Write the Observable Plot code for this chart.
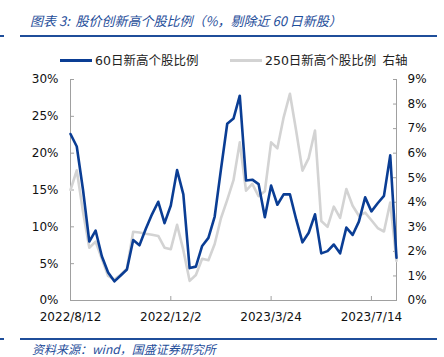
<!DOCTYPE html>
<html>
<head>
<meta charset="utf-8">
<script src="https://cdn.jsdelivr.net/npm/d3@7"></script>
<script src="https://cdn.jsdelivr.net/npm/@observablehq/plot@0.6"></script>
<style>
  html, body { margin: 0; padding: 0; background: #fff; }
  body { width: 444px; height: 357px; position: relative; overflow: hidden; font-family: "DejaVu Sans", sans-serif; }
  .title { position: absolute; left: 30px; top: 11px; font-family: "Noto Sans CJK SC", sans-serif; font-style: italic; font-size: 13px; color: #1f4e9a; white-space: pre; }
  .rule { position: absolute; height: 2px; background: #1f4e9a; }
  .legend { position: absolute; top: 52px; font-size: 12.5px; line-height: 16px; color: #222; white-space: nowrap; font-family: "DejaVu Sans", "Noto Sans CJK SC", sans-serif; }
  .legend .sw { display: inline-block; width: 32px; height: 3px; vertical-align: middle; margin-right: 3px; position: relative; top: -1px; }
  .cjk { font-family: "Noto Sans CJK SC", sans-serif; }
  .source { position: absolute; left: 32px; top: 342px; line-height: 14px; font-family: "Noto Sans CJK SC", sans-serif; font-style: italic; font-size: 12px; color: #1f4e9a; white-space: nowrap; }
  #chart { position: absolute; left: 0; top: 70px; }
</style>
</head>
<body>
<div class="title">图表 3:  股价创新高个股比例（%，剔除近 60 日新股）</div>
<div class="rule" style="left:0;width:4px;top:35px"></div>
<div class="rule" style="left:20px;width:417px;top:35px"></div>
<div class="legend" style="left:60px"><span class="sw" style="background:#0a3d94"></span>60<span class="cjk">日新高个股比例</span></div>
<div class="legend" style="left:230px"><span class="sw" style="background:#d3d3d3"></span>250<span class="cjk">日新高个股比例</span><span class="cjk" style="margin-left:6px">右轴</span></div>
<div id="chart"></div>
<div class="rule" style="left:0;width:4px;top:338px"></div>
<div class="rule" style="left:20px;width:417px;top:338px"></div>
<div class="source">资料来源：wind，国盛证券研究所</div>
<script>
// Weekly observations starting 2022/8/12 (53 weeks)
const startDate = "2022-08-12";
const weekCount = 53;

// 60日新高个股比例 (%), left axis
const high60 = [22.6, 20.9, 15.0, 8.0, 9.5, 6.0, 3.8, 2.6, 3.4, 4.2,
  8.2, 7.5, 9.7, 11.7, 13.4, 10.5, 12.9, 17.7, 14.4, 4.4,
  4.6, 7.4, 8.5, 11.4, 17.8, 24.0, 24.7, 27.8, 16.3, 16.4,
  15.8, 11.3, 15.6, 13.0, 14.4, 14.4, 11.0, 7.9, 9.2, 11.7,
  6.4, 6.7, 7.6, 6.4, 9.9, 8.9, 10.7, 14.0, 12.1, 13.2,
  14.2, 19.7, 5.8];

// 250日新高个股比例 (%), right axis
const high250 = [4.5, 5.3, 3.6, 2.15, 2.4, 1.7, 1.0, 0.85, 1.05, 1.3,
  2.8, 2.77, 2.72, 2.68, 2.63, 2.15, 2.09, 3.08, 2.05, 0.8,
  1.04, 1.7, 1.64, 2.3, 3.35, 4.1, 4.9, 6.44, 4.47, 4.75,
  4.25, 4.45, 6.44, 6.2, 7.46, 8.42, 6.9, 5.29, 5.8, 6.92,
  3.24, 3.0, 3.82, 3.36, 4.54, 3.86, 3.45, 3.58, 3.27, 2.95,
  2.81, 3.99, 1.61];

const leftTicks = [0, 5, 10, 15, 20, 25, 30];
const rightTicks = [0, 1, 2, 3, 4, 5, 6, 7, 8, 9];
const xTickLabels = ["2022/8/12", "2022/12/2", "2023/3/24", "2023/7/14"];

const leftMax = 30, rightMax = 9;
const start = new Date(startDate + "T00:00:00Z");
const dates = d3.range(weekCount).map(i => d3.utcDay.offset(start, 7 * i));
const parseLabel = s => { const [y, m, d] = s.split("/").map(Number); return new Date(Date.UTC(y, m - 1, d)); };
const xTicks = xTickLabels.map(parseLabel);
const fmtDate = d => `${d.getUTCFullYear()}/${d.getUTCMonth() + 1}/${d.getUTCDate()}`;

const rows60 = dates.map((d, i) => ({date: d, v: high60[i]}));
const rows250 = dates.map((d, i) => ({date: d, v: high250[i] * leftMax / rightMax}));

const axisGray = "#a0a0a0";
const chart = Plot.plot({
  width: 444,
  height: 260,
  marginLeft: 70,
  marginRight: 48,
  marginTop: 9,
  marginBottom: 30,
  style: {fontFamily: "DejaVu Sans, sans-serif", fontSize: "12px", color: "#111", background: "transparent", overflow: "visible"},
  x: {type: "utc", domain: [dates[0], dates[dates.length - 1]]},
  y: {domain: [0, leftMax]},
  marks: [
    Plot.ruleX([dates[0]], {stroke: axisGray}),
    Plot.ruleX([dates[dates.length - 1]], {stroke: axisGray}),
    Plot.ruleY([0], {stroke: axisGray}),
    Plot.axisY({anchor: "left", ticks: leftTicks, tickFormat: d => d + "%", tickSize: -4, tickPadding: 16, stroke: axisGray, label: null}),
    Plot.axisY({anchor: "right", ticks: rightTicks.map(v => v * leftMax / rightMax), tickFormat: d => Math.round(d * rightMax / leftMax) + "%", tickSize: -4, tickPadding: 15, stroke: axisGray, label: null}),
    Plot.axisX({anchor: "bottom", ticks: xTicks, tickFormat: fmtDate, tickSize: -4, tickPadding: 16, stroke: axisGray, label: null}),
    Plot.line(rows250, {x: "date", y: "v", stroke: "#d3d3d3", strokeWidth: 2.6}),
    Plot.line(rows60, {x: "date", y: "v", stroke: "#0a3d94", strokeWidth: 2.6})
  ]
});
document.getElementById("chart").appendChild(chart);
</script>
</body>
</html>
